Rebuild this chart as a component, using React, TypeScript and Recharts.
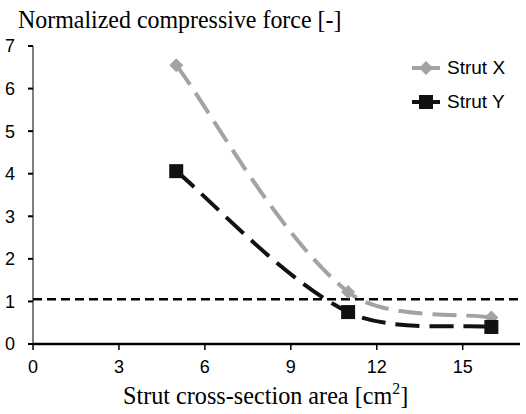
import { LineChart, Line, XAxis, YAxis, ReferenceLine } from 'recharts';

// values
const areas = [5, 11, 16];
const strutX = [6.55, 1.22, 0.62];
const strutY = [4.06, 0.75, 0.4];
const xTicks = [0, 3, 6, 9, 12, 15];
const yTicks = [0, 1, 2, 3, 4, 5, 6, 7];
const limit = 1.05;

const data = areas.map((a, i) => ({ area: a, x: strutX[i], y: strutY[i] }));

const GREY = '#a3a3a3';
const BLACK = '#111111';

// Excel-like smoothed line (bezier with neighbour based tangents)
const excelSmooth = (context: any) => {
  let pts: number[][] = [];
  const dist = (a: number[], b: number[]) => Math.hypot(b[0] - a[0], b[1] - a[1]);
  const k = 1 / 3;
  return {
    areaStart() {},
    areaEnd() {},
    lineStart() {
      pts = [];
    },
    point(x: number, y: number) {
      pts.push([x, y]);
    },
    lineEnd() {
      const n = pts.length;
      if (!n) return;
      context.moveTo(pts[0][0], pts[0][1]);
      for (let i = 0; i < n - 1; i++) {
        const p1 = pts[i];
        const p2 = pts[i + 1];
        const seg = dist(p1, p2);
        let c1: number[];
        let c2: number[];
        if (i > 0) {
          const p0 = pts[i - 1];
          const f = (k * seg) / (dist(p0, p1) + seg);
          c1 = [p1[0] + (p2[0] - p0[0]) * f, p1[1] + (p2[1] - p0[1]) * f];
        } else {
          c1 = [p1[0] + (p2[0] - p1[0]) * 0.2, p1[1] + (p2[1] - p1[1]) * 0.2];
        }
        if (i < n - 2) {
          const p3 = pts[i + 2];
          const f = (k * seg) / (dist(p2, p3) + seg);
          c2 = [p2[0] - (p3[0] - p1[0]) * f, p2[1] - (p3[1] - p1[1]) * f];
        } else {
          c2 = [p2[0] + (p1[0] - p2[0]) * 0.2, p2[1] + (p1[1] - p2[1]) * 0.2];
        }
        context.bezierCurveTo(c1[0], c1[1], c2[0], c2[1], p2[0], p2[1]);
      }
    },
  };
};

const Diamond = (props: any) => {
  const { cx, cy, index } = props;
  if (cx == null || cy == null) return <g key={'d' + index} />;
  return (
    <path
      key={'d' + index}
      d={`M${cx},${cy - 7}L${cx + 7},${cy}L${cx},${cy + 7}L${cx - 7},${cy}Z`}
      fill={GREY}
    />
  );
};

const Square = (props: any) => {
  const { cx, cy, index } = props;
  if (cx == null || cy == null) return <g key={'s' + index} />;
  return <rect key={'s' + index} x={cx - 7} y={cy - 7} width={14} height={14} fill={BLACK} />;
};

const sans = '"Liberation Sans", Arial, sans-serif';
const serif = '"Liberation Serif", "Times New Roman", serif';
const tickFont = { fontFamily: sans, fontSize: 18, fill: '#000' };

const legendItems = [
  { name: 'Strut X', color: GREY, shape: 'diamond' },
  { name: 'Strut Y', color: BLACK, shape: 'square' },
];

const titleStyle = {
  position: 'absolute' as const,
  fontFamily: serif,
  fontSize: 26,
  lineHeight: '26px',
  color: '#000',
  whiteSpace: 'nowrap' as const,
  transformOrigin: 'left top',
};

export default function App() {
  return (
    <div style={{ position: 'absolute', left: 0, top: 0, width: 526, height: 414, background: '#fff' }}>
      <LineChart width={526} height={414} data={data} margin={{ top: 46, right: 6, left: 0, bottom: 40 }}>
        <XAxis
          type="number"
          dataKey="area"
          domain={[0, 17]}
          ticks={xTicks}
          tick={tickFont}
          tickSize={6}
          tickMargin={10}
          height={30}
          axisLine={{ stroke: '#000', strokeWidth: 2.5 }}
          tickLine={{ stroke: '#000', strokeWidth: 1.5 }}
        />
        <YAxis
          type="number"
          domain={[0, 7]}
          ticks={yTicks}
          tick={tickFont}
          tickSize={5}
          tickMargin={13}
          width={33}
          axisLine={{ stroke: '#000', strokeWidth: 1 }}
          tickLine={{ stroke: '#000', strokeWidth: 2 }}
        />
        <Line
          dataKey="x"
          type={excelSmooth as any}
          stroke={GREY}
          strokeWidth={4}
          strokeDasharray="24 10"
          dot={Diamond}
          activeDot={false}
          isAnimationActive={false}
        />
        <Line
          dataKey="y"
          type={excelSmooth as any}
          stroke={BLACK}
          strokeWidth={4}
          strokeDasharray="24 10"
          dot={Square}
          activeDot={false}
          isAnimationActive={false}
        />
        <ReferenceLine y={limit} stroke="#000" strokeWidth={2.5} strokeDasharray="9 5" />
      </LineChart>

      <div style={{ ...titleStyle, left: 18, top: 7, transform: 'scaleX(0.92)' }}>
        Normalized compressive force [-]
      </div>
      <div style={{ ...titleStyle, left: 123, top: 383, transform: 'scaleX(0.93)' }}>
        Strut cross-section area [cm
        <span style={{ position: 'relative', top: -10, fontSize: 17 }}>2</span>]
      </div>

      <div style={{ position: 'absolute', left: 411, top: 51 }}>
        {legendItems.map((it) => (
          <div key={it.name} style={{ display: 'flex', alignItems: 'center', height: 34 }}>
            <svg width={30} height={20} style={{ marginRight: 6 }}>
              <line x1={1} y1={10} x2={29} y2={10} stroke={it.color} strokeWidth={4} />
              {it.shape === 'diamond' ? (
                <path d="M15,3L22,10L15,17L8,10Z" fill={it.color} />
              ) : (
                <rect x={8} y={3} width={14} height={14} fill={it.color} />
              )}
            </svg>
            <span style={{ fontFamily: sans, fontSize: 19, color: '#000' }}>{it.name}</span>
          </div>
        ))}
      </div>
    </div>
  );
}
